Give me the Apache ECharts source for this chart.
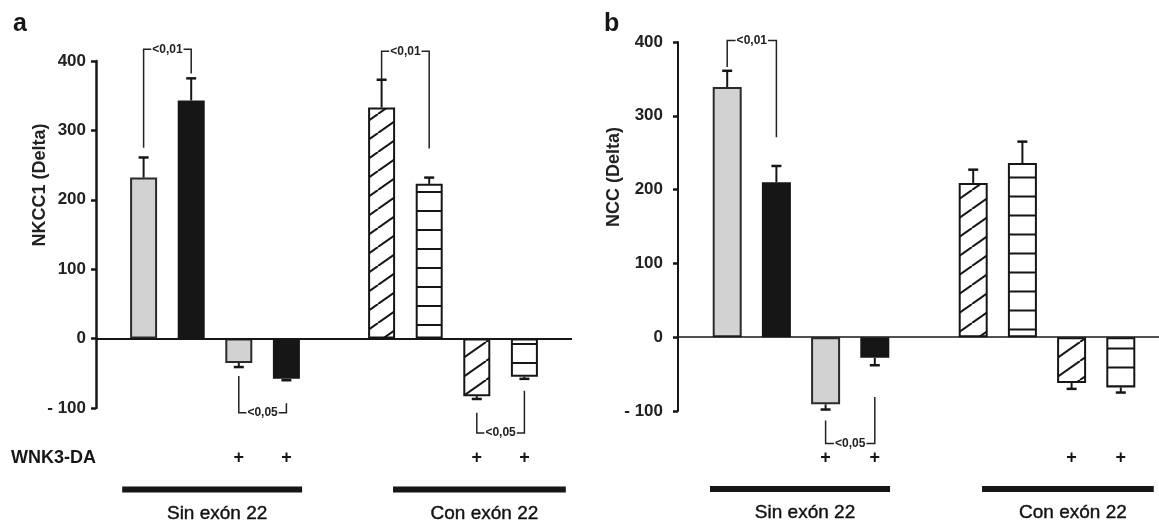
<!DOCTYPE html>
<html><head><meta charset="utf-8">
<script src="https://cdn.jsdelivr.net/npm/echarts@6/dist/echarts.min.js"></script>
<style>html,body{margin:0;padding:0;background:#fff}#chart{width:1159px;height:527px}</style>
</head><body><div id="chart"></div>
<script>
// ---- data ----
const categories = ['pad-l', 'Sin-ctrl-a', 'Sin-ctrl-b', 'Sin-WNK3-a', 'Sin-WNK3-b', 'gap', 'Con-ctrl-a', 'Con-ctrl-b', 'Con-WNK3-a', 'Con-WNK3-b', 'pad-r'];
const wnkMarks = ['', '', '', '+', '+', '', '', '', '+', '+', ''];
const barSlots = [1, 2, 3, 4, 6, 7, 8, 9];
const barKinds = ['gray', 'black', 'gray', 'black', 'hatch', 'hlines', 'hatch', 'hlines'];
const nkccValues = [232, 343, -35, -58, 333, 223, -83, -55];
const nkccErrors = [29, 32, 6, 2, 40, 9, 4, 3];
const nccValues = [339, 210, -91, -28, 209, 236, -62, -68];
const nccErrors = [22, 22, 7, 10, 18, 29, 8, 7];
const yMin = -100, yMax = 400, yStep = 100;
const groupNames = ['Sin exón 22', 'Con exón 22'];
const nkccGroupSpans = [[0.55, 4.33], [6.24, 9.87]];
const nccGroupSpans = [[0.65, 4.31], [6.18, 9.67]];
// brackets: [fromSlot, toSlot, startValue, levelValue, endValue, label]
const nkccBrackets = [[1, 2, 275, 417, 382, '<0,01'], [6, 7, 373, 414, 274, '<0,01'], [3, 4, -54, -107, -93, '<0,05'], [8, 9, -107, -136, -75, '<0,05']];
const nccBrackets = [[1, 2, 366, 402, 271, '<0,01'], [3, 4, -113, -144, -81, '<0,05']];
const yTitles = ['NKCC1 (Delta)', 'NCC (Delta)'];
const panelLetters = ['a', 'b'];
const rowLabel = 'WNK3-DA';

// ---- styles ----
const FONT = '"Liberation Sans", Arial, Helvetica, sans-serif';
const INK = '#161616';

function hatchPattern() {
  const c = document.createElement('canvas'); c.width = 27; c.height = 19;
  const g = c.getContext('2d'); g.fillStyle = '#fff'; g.fillRect(0, 0, 27, 19);
  g.strokeStyle = INK; g.lineWidth = 2;
  [-27, 0, 27].forEach(dx => { g.beginPath(); g.moveTo(dx, 19); g.lineTo(dx + 27, 0); g.stroke(); });
  return c;
}
function hlinePattern(off) {
  const c = document.createElement('canvas'); c.width = 8; c.height = 19;
  const g = c.getContext('2d'); g.fillStyle = '#fff'; g.fillRect(0, 0, 8, 19);
  g.fillStyle = INK; g.fillRect(0, off - 1, 8, 2);
  return c;
}
const hatchImg = hatchPattern();

function styleFor(kind, hl) {
  const base = { borderColor: INK, borderWidth: 2 };
  if (kind === 'gray') return Object.assign(base, { color: '#d2d2d2', borderColor: '#2b2b2b' });
  if (kind === 'black') return Object.assign(base, { color: INK });
  if (kind === 'hatch') return Object.assign(base, { color: { image: hatchImg, repeat: 'repeat' } });
  return Object.assign(base, { color: { image: hl, repeat: 'repeat' } });
}

// position between category slots (category axis rounds fractional values)
function slotCoord(api, v, y) {
  const i = Math.floor(v);
  const a = api.coord([i, y]), b = api.coord([i + 1, y]);
  return [a[0] + (v - i) * (b[0] - a[0]), a[1]];
}

const panels = [
  { grid: { left: 96, top: 61, width: 476, height: 347 }, values: nkccValues, errors: nkccErrors, brackets: nkccBrackets, spans: nkccGroupSpans,
    barWidth: 27, labelMargin: 10, zeroWidth: 2, axisWidth: 2.5, xLabelMargin: 50, lineOffset: 81.5, textOffset: 106, hl: hlinePattern(2) },
  { grid: { left: 678, top: 42, width: 492, height: 369 }, values: nccValues, errors: nccErrors, brackets: nccBrackets, spans: nccGroupSpans,
    barWidth: 29, labelMargin: 15, zeroWidth: 1.5, axisWidth: 2, xLabelMargin: 47, lineOffset: 78, textOffset: 102, hl: hlinePattern(6.5) }
];

const grids = [], xAxes = [], yAxes = [], series = [];
panels.forEach((p, i) => {
  grids.push(Object.assign({ containLabel: false, outerBoundsMode: 'none' }, p.grid));
  xAxes.push({
    type: 'category', gridIndex: i, data: categories, boundaryGap: false,
    axisLine: { show: false }, axisTick: { show: false }, splitLine: { show: false },
    axisLabel: { interval: 0, margin: p.xLabelMargin, verticalAlign: 'middle', color: INK,
      fontFamily: FONT, fontWeight: 'bold', fontSize: 18, formatter: (v, idx) => wnkMarks[idx] }
  });
  yAxes.push({
    type: 'value', gridIndex: i, min: yMin, max: yMax, interval: yStep,
    axisLine: { show: true, lineStyle: { color: INK, width: p.axisWidth } },
    axisTick: { show: true, inside: false, length: 5, lineStyle: { color: INK, width: 2.5 } },
    splitLine: { show: false },
    axisLabel: { margin: p.labelMargin, color: '#222', fontFamily: FONT, fontWeight: 'bold', fontSize: 17,
      formatter: v => v < 0 ? '- ' + Math.abs(v) : String(v) }
  });
  const barData = categories.map(() => '-');
  barSlots.forEach((s, k) => { barData[s] = { value: p.values[k], itemStyle: styleFor(barKinds[k], p.hl) }; });
  series.push({
    type: 'bar', xAxisIndex: i, yAxisIndex: i, data: barData, barWidth: p.barWidth, z: 3,
    markLine: { silent: true, symbol: 'none', label: { show: false }, lineStyle: { color: INK, width: p.zeroWidth, type: 'solid' },
      data: [{ yAxis: 0 }] }
  });
  series.push({
    type: 'custom', xAxisIndex: i, yAxisIndex: i, clip: false, z: 4,
    data: barSlots.map((s, k) => [s, p.values[k], p.errors[k]]),
    renderItem: (params, api) => {
      const x = api.value(0), v = api.value(1), e = api.value(2);
      const sgn = v >= 0 ? 1 : -1;
      const p0 = api.coord([x, v]), p1 = api.coord([x, v + sgn * e]);
      return { type: 'group', children: [
        { type: 'line', shape: { x1: p0[0], y1: p0[1], x2: p1[0], y2: p1[1] }, style: { stroke: INK, lineWidth: 2 } },
        { type: 'line', shape: { x1: p1[0] - 5, y1: p1[1], x2: p1[0] + 5, y2: p1[1] }, style: { stroke: INK, lineWidth: 2.5 } }
      ] };
    }
  });
  series.push({
    type: 'custom', xAxisIndex: i, yAxisIndex: i, clip: false, z: 5,
    data: p.brackets.map(b => [b[0], b[1], b[2], b[3], b[4]]),
    renderItem: (params, api) => {
      const L = api.value(0), R = api.value(1);
      const a = api.coord([L, api.value(2)]), b = api.coord([L, api.value(3)]);
      const c = api.coord([R, api.value(3)]), d = api.coord([R, api.value(4)]);
      return { type: 'group', children: [
        { type: 'polyline', shape: { points: [a, b, c, d] }, style: { stroke: '#222', lineWidth: 1.5, fill: null } },
        { type: 'text', x: (b[0] + c[0]) / 2, y: b[1], z2: 10,
          style: { text: p.brackets[params.dataIndex][5], fill: '#222', font: 'bold 12px ' + FONT,
            align: 'center', verticalAlign: 'middle', backgroundColor: '#fff', padding: [1, 1] } }
      ] };
    }
  });
  series.push({
    type: 'custom', xAxisIndex: i, yAxisIndex: i, clip: false, z: 5,
    data: p.spans.map(s => [s[0], s[1]]),
    renderItem: (params, api) => {
      const span = p.spans[params.dataIndex];
      const s0 = slotCoord(api, span[0], yMin), s1 = slotCoord(api, span[1], yMin);
      const y = s0[1] + p.lineOffset;
      return { type: 'group', children: [
        { type: 'rect', shape: { x: s0[0], y: y - 3, width: s1[0] - s0[0], height: 6 }, style: { fill: INK } },
        { type: 'text', x: (s0[0] + s1[0]) / 2 + 5, y: s0[1] + p.textOffset,
          style: { text: groupNames[params.dataIndex], fill: '#111', font: '19px ' + FONT, align: 'center', verticalAlign: 'middle',
            stroke: '#111', lineWidth: 0.4 } }
      ] };
    }
  });
});

const graphics = [
  { type: 'text', x: 13, y: 37, style: { text: panelLetters[0], font: 'bold 25px ' + FONT, fill: INK, verticalAlign: 'bottom' } },
  { type: 'text', x: 604, y: 37, style: { text: panelLetters[1], font: 'bold 25px ' + FONT, fill: INK, verticalAlign: 'bottom' } },
  { type: 'text', x: 40, y: 185, rotation: Math.PI / 2, style: { text: yTitles[0], font: 'bold 18px ' + FONT, fill: '#222', align: 'center', verticalAlign: 'middle' } },
  { type: 'text', x: 614, y: 177, rotation: Math.PI / 2, style: { text: yTitles[1], font: 'bold 18px ' + FONT, fill: '#222', align: 'center', verticalAlign: 'middle' } },
  { type: 'text', x: 11, y: 458, style: { text: rowLabel, font: 'bold 18px ' + FONT, fill: INK, verticalAlign: 'middle' } }
];

const chart = echarts.init(document.getElementById('chart'), null, { renderer: 'canvas' });
chart.setOption({
  animation: false, backgroundColor: '#fff',
  grid: grids, xAxis: xAxes, yAxis: yAxes, series: series, graphic: graphics
});
</script></body></html>
